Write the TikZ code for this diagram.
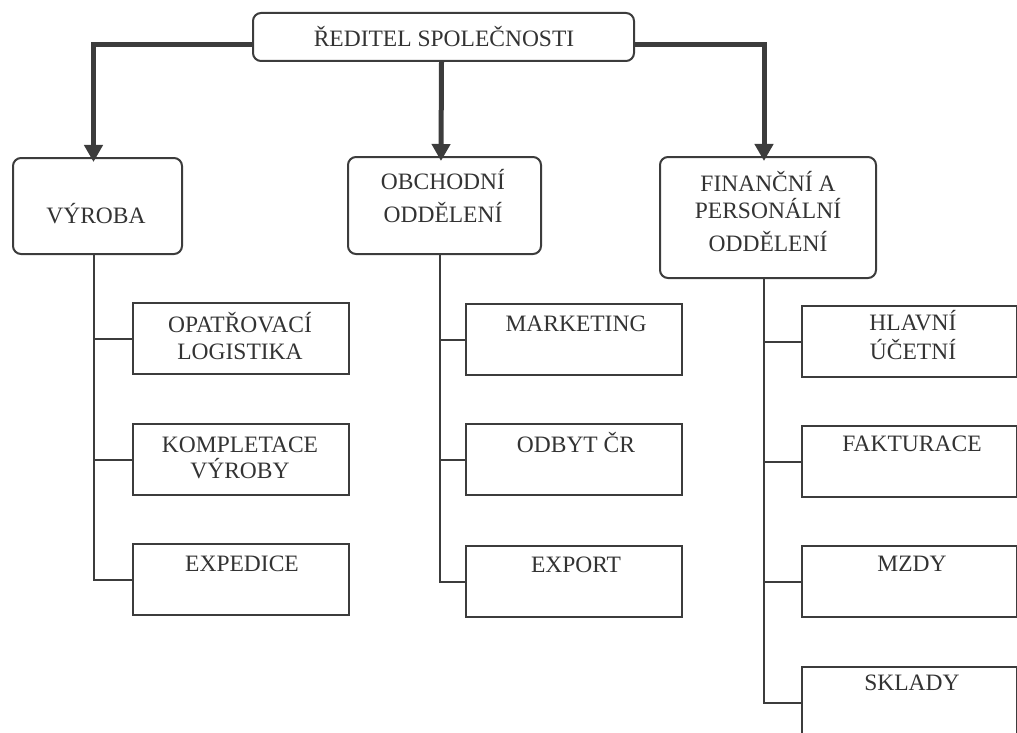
\documentclass[tikz,border=0pt]{standalone}
\usepackage{fontspec}
\setmainfont{Liberation Serif}
\usetikzlibrary{arrows.meta,calc}
\definecolor{ln}{HTML}{3C3C3C}
\definecolor{tx}{HTML}{333333}
\tikzset{
  headbox/.style={draw=ln, line width=2pt, rounded corners=8pt, minimum width=#1, anchor=north west, inner sep=0pt},
  subbox/.style={draw=ln, line width=2pt, minimum width=#1, minimum height=71pt, anchor=north west, inner sep=0pt},
  txt/.style={text=tx, font=\fontsize{23.5pt}{28pt}\selectfont, align=center, anchor=base, inner sep=0pt},
  thickc/.style={draw=ln, line width=5pt, -{Triangle[length=17pt,width=18pt]}, shorten >=-5pt},
  thinc/.style={draw=ln, line width=2pt}
}
\begin{document}
\begin{tikzpicture}[x=1pt,y=-1pt]
\useasboundingbox (0,0) rectangle (1017,733);
% head boxes
\node[headbox=381pt, minimum height=48pt] (top) at (252,12) {};
\node[headbox=169pt, minimum height=96pt] (vyr) at (12,157) {};
\node[headbox=193pt, minimum height=97pt] (obch) at (347,156) {};
\node[headbox=216pt, minimum height=121pt] (fin) at (659,156) {};
% sub boxes left
\node[subbox=216pt] (opl) at (132,302) {};
\node[subbox=216pt] (kom) at (132,423) {};
\node[subbox=216pt] (exp) at (132,543) {};
% sub boxes middle
\node[subbox=216pt] (mkt) at (465,303) {};
\node[subbox=216pt] (odb) at (465,423) {};
\node[subbox=216pt] (ext) at (465,545) {};
% sub boxes right
\node[subbox=215pt] (hla) at (801,305) {};
\node[subbox=215pt] (fak) at (801,425) {};
\node[subbox=215pt] (mzd) at (801,545) {};
\node[subbox=215pt] (skl) at (801,666) {};
% texts (anchor=base is the baseline of the last line)
\node[txt] at (444,47) {ŘEDITEL SPOLEČNOSTI};
\node[txt] at (96,223) {VÝROBA};
\node[txt] at (443,222) {OBCHODNÍ\\[5pt]ODDĚLENÍ};
\node[txt] at (768,251) {FINANČNÍ A\\[-1pt]PERSONÁLNÍ\\[5pt]ODDĚLENÍ};
\node[txt] at (240,359) {OPATŘOVACÍ\\[-1pt]LOGISTIKA};
\node[txt] at (240,478) {KOMPLETACE\\[-2pt]VÝROBY};
\node[txt] at (242,571) {EXPEDICE};
\node[txt] at (576,331) {MARKETING};
\node[txt] at (576,452) {ODBYT ČR};
\node[txt] at (576,572) {EXPORT};
\node[txt] at (913,359) {HLAVNÍ\\[1pt]ÚČETNÍ};
\node[txt] at (912,451) {FAKTURACE};
\node[txt] at (912,571) {MZDY};
\node[txt] at (912,690) {SKLADY};
% thick connectors
\draw[thickc] ([yshift=-8pt]top.west) -| ([xshift=-4pt]vyr.north);
\draw[thickc] ([xshift=-2pt]top.south) -- ([xshift=-3.5pt]obch.north);
\draw[thickc] ([yshift=-8pt]top.east) -| ([xshift=-4pt]fin.north);
% thin connectors
\draw[thinc] ([xshift=-4pt]vyr.south) |- (exp.west);
\draw[thinc] ([xshift=-4pt]vyr.south) |- (opl.west);
\draw[thinc] ([xshift=-4pt]vyr.south) |- (kom.west);
\draw[thinc] ([xshift=-4.5pt]obch.south) |- (ext.west);
\draw[thinc] ([xshift=-4.5pt]obch.south) |- (mkt.west);
\draw[thinc] ([xshift=-4.5pt]obch.south) |- (odb.west);
\draw[thinc] ([xshift=-4pt]fin.south) |- (skl.west);
\draw[thinc] ([xshift=-4pt]fin.south) |- (hla.west);
\draw[thinc] ([xshift=-4pt]fin.south) |- (fak.west);
\draw[thinc] ([xshift=-4pt]fin.south) |- (mzd.west);
\end{tikzpicture}
\end{document}
